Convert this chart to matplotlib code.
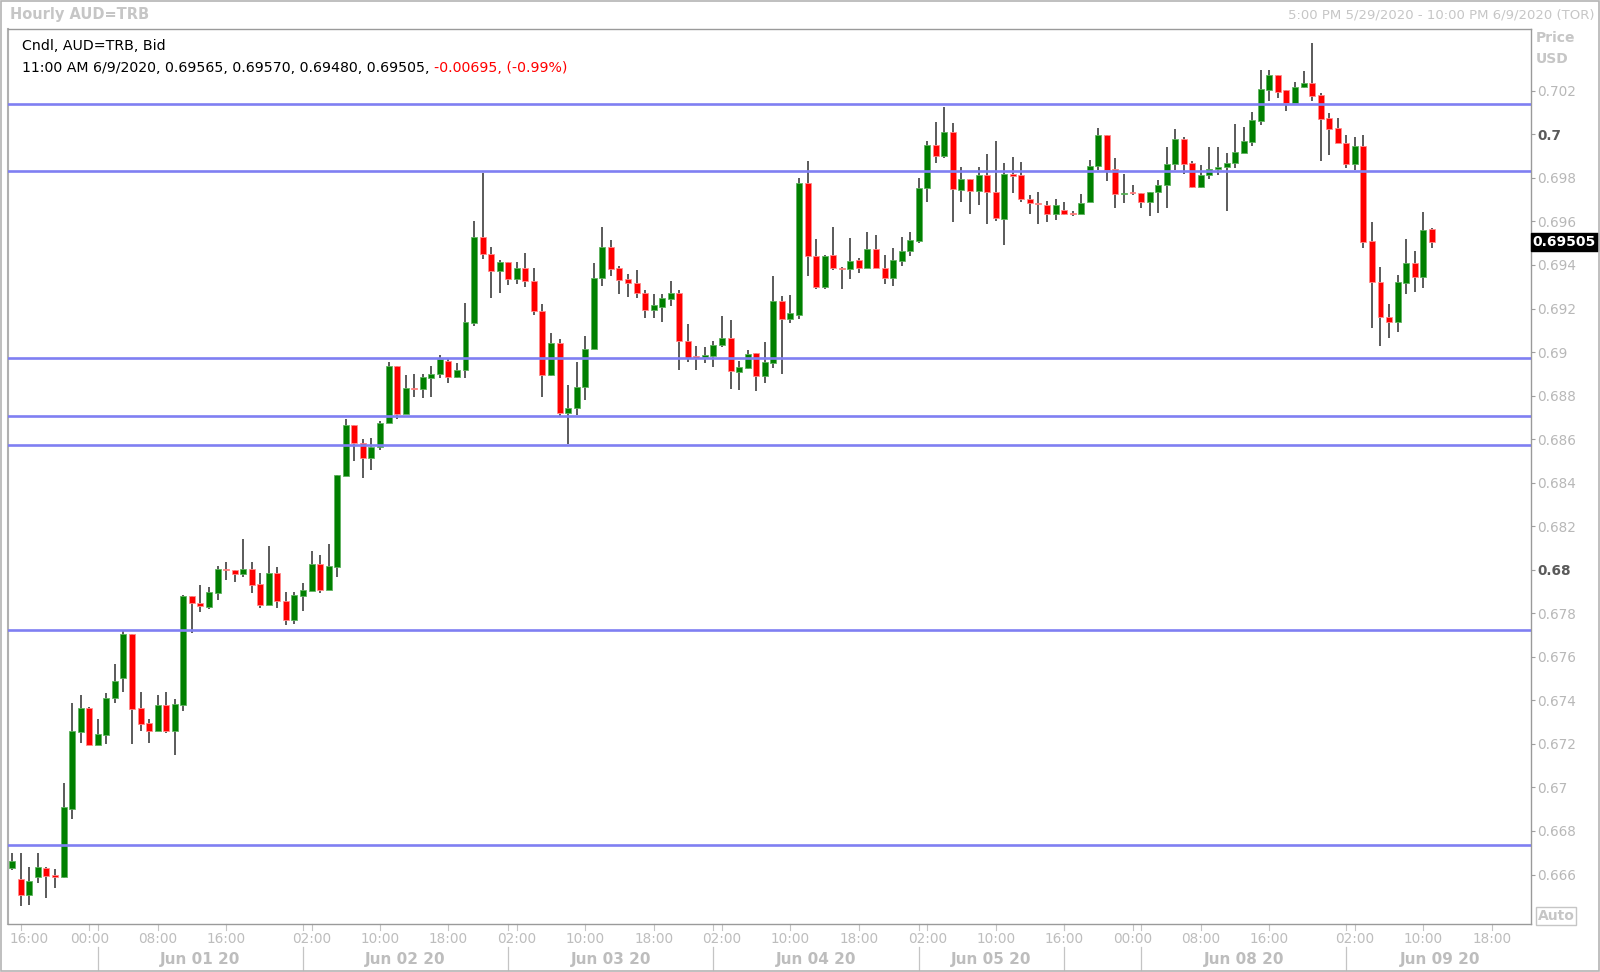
import matplotlib
matplotlib.use("Agg")
import matplotlib.pyplot as plt
import matplotlib.transforms as mtransforms
from matplotlib.patches import Rectangle
import numpy as np

# ---------------- data (hourly AUD=TRB candles) ----------------
opens = [0.66628, 0.66578, 0.66506, 0.66587, 0.66629, 0.66599, 0.66587, 0.66901, 0.67256, 0.67365,
         0.67195, 0.67242, 0.67409, 0.67501, 0.67705, 0.67365, 0.67295, 0.67261, 0.67377, 0.67261,
         0.67379, 0.67879, 0.67849, 0.67831, 0.67895, 0.68002, 0.67999, 0.67980, 0.68002, 0.67933,
         0.67838, 0.67984, 0.67858, 0.67770, 0.67880, 0.67903, 0.68025, 0.67907, 0.68014, 0.68431,
         0.68666, 0.68584, 0.68515, 0.68565, 0.68673, 0.68938, 0.68716, 0.68833, 0.68830, 0.68882,
         0.68898, 0.68961, 0.68887, 0.68918, 0.69135, 0.69527, 0.69449, 0.69370, 0.69412, 0.69334,
         0.69385, 0.69326, 0.69189, 0.68895, 0.69043, 0.68719, 0.68745, 0.68838, 0.69016, 0.69340,
         0.69484, 0.69385, 0.69336, 0.69319, 0.69273, 0.69193, 0.69205, 0.69245, 0.69270, 0.69052,
         0.68982, 0.68976, 0.68983, 0.69031, 0.69066, 0.68908, 0.68925, 0.68994, 0.68892, 0.68948,
         0.69236, 0.69150, 0.69170, 0.69778, 0.69443, 0.69297, 0.69446, 0.69388, 0.69382, 0.69423,
         0.69388, 0.69475, 0.69388, 0.69342, 0.69420, 0.69466, 0.69512, 0.69752, 0.69951, 0.69902,
         0.70012, 0.69744, 0.69793, 0.69741, 0.69815, 0.69737, 0.69613, 0.69816, 0.69813, 0.69702,
         0.69685, 0.69677, 0.69634, 0.69653, 0.69637, 0.69634, 0.69688, 0.69855, 0.69997, 0.69839,
         0.69727, 0.69732, 0.69730, 0.69690, 0.69735, 0.69766, 0.69864, 0.69979, 0.69868, 0.69760,
         0.69812, 0.69839, 0.69849, 0.69867, 0.69916, 0.69966, 0.70063, 0.70204, 0.70273, 0.70202,
         0.70146, 0.70216, 0.70237, 0.70181, 0.70074, 0.70028, 0.69959, 0.69862, 0.69948, 0.69512,
         0.69323, 0.69163, 0.69140, 0.69317, 0.69411, 0.69343, 0.69565]
highs = [0.66697, 0.66697, 0.66633, 0.66697, 0.66633, 0.66627, 0.67019, 0.67386, 0.67425, 0.67371,
         0.67316, 0.67435, 0.67565, 0.67720, 0.67705, 0.67438, 0.67313, 0.67425, 0.67438, 0.67408,
         0.67885, 0.67879, 0.67930, 0.67919, 0.68017, 0.68037, 0.68000, 0.68141, 0.68037, 0.67984,
         0.68111, 0.68014, 0.67896, 0.67900, 0.67938, 0.68086, 0.68068, 0.68117, 0.68435, 0.68692,
         0.68666, 0.68599, 0.68604, 0.68685, 0.68953, 0.68938, 0.68895, 0.68900, 0.68899, 0.68938,
         0.68987, 0.68967, 0.68948, 0.69224, 0.69603, 0.69821, 0.69484, 0.69423, 0.69412, 0.69412,
         0.69453, 0.69388, 0.69221, 0.69086, 0.69060, 0.68850, 0.68956, 0.69074, 0.69411, 0.69573,
         0.69515, 0.69395, 0.69359, 0.69377, 0.69285, 0.69267, 0.69267, 0.69328, 0.69285, 0.69129,
         0.69029, 0.69025, 0.69052, 0.69166, 0.69147, 0.68960, 0.69009, 0.68994, 0.69045, 0.69349,
         0.69259, 0.69260, 0.69798, 0.69879, 0.69519, 0.69447, 0.69573, 0.69390, 0.69522, 0.69431,
         0.69553, 0.69536, 0.69446, 0.69480, 0.69530, 0.69551, 0.69798, 0.69971, 0.70057, 0.70127,
         0.70054, 0.69849, 0.69793, 0.69852, 0.69910, 0.69971, 0.69870, 0.69897, 0.69875, 0.69721,
         0.69734, 0.69695, 0.69702, 0.69690, 0.69649, 0.69724, 0.69882, 0.70031, 0.69997, 0.69890,
         0.69820, 0.69767, 0.69730, 0.69737, 0.69790, 0.69943, 0.70023, 0.69986, 0.69878, 0.69859,
         0.69943, 0.69943, 0.69913, 0.70046, 0.70032, 0.70104, 0.70296, 0.70296, 0.70273, 0.70202,
         0.70242, 0.70291, 0.70418, 0.70191, 0.70097, 0.70074, 0.69997, 0.69986, 0.69997, 0.69599,
         0.69392, 0.69219, 0.69354, 0.69520, 0.69466, 0.69642, 0.69570]
lows = [0.66621, 0.66455, 0.66460, 0.66560, 0.66490, 0.66537, 0.66585, 0.66854, 0.67203, 0.67193,
        0.67193, 0.67198, 0.67386, 0.67440, 0.67200, 0.67260, 0.67203, 0.67261, 0.67249, 0.67151,
        0.67353, 0.67711, 0.67807, 0.67818, 0.67861, 0.67953, 0.67942, 0.67968, 0.67892, 0.67823,
        0.67838, 0.67823, 0.67748, 0.67750, 0.67812, 0.67903, 0.67895, 0.67907, 0.67968, 0.68430,
        0.68501, 0.68423, 0.68458, 0.68550, 0.68673, 0.68691, 0.68716, 0.68795, 0.68790, 0.68795,
        0.68882, 0.68856, 0.68879, 0.68882, 0.69120, 0.69426, 0.69247, 0.69273, 0.69308, 0.69313,
        0.69300, 0.69170, 0.68792, 0.68890, 0.68705, 0.68578, 0.68710, 0.68780, 0.69016, 0.69305,
        0.69349, 0.69267, 0.69254, 0.69250, 0.69158, 0.69158, 0.69140, 0.69212, 0.68918, 0.68953,
        0.68918, 0.68948, 0.68933, 0.69025, 0.68829, 0.68826, 0.68920, 0.68823, 0.68856, 0.68925,
        0.68899, 0.69135, 0.69150, 0.69351, 0.69290, 0.69290, 0.69377, 0.69290, 0.69334, 0.69362,
        0.69388, 0.69388, 0.69311, 0.69305, 0.69395, 0.69443, 0.69499, 0.69688, 0.69867, 0.69890,
        0.69596, 0.69688, 0.69633, 0.69676, 0.69588, 0.69604, 0.69492, 0.69732, 0.69691, 0.69633,
        0.69587, 0.69596, 0.69607, 0.69629, 0.69626, 0.69634, 0.69688, 0.69836, 0.69787, 0.69660,
        0.69683, 0.69721, 0.69663, 0.69625, 0.69640, 0.69663, 0.69836, 0.69818, 0.69752, 0.69752,
        0.69793, 0.69813, 0.69648, 0.69844, 0.69916, 0.69947, 0.70043, 0.70155, 0.70165, 0.70109,
        0.70146, 0.70211, 0.70155, 0.69879, 0.69905, 0.69959, 0.69844, 0.69836, 0.69477, 0.69110,
        0.69027, 0.69063, 0.69094, 0.69267, 0.69277, 0.69295, 0.69480]
closes = [0.66662, 0.66506, 0.66572, 0.66635, 0.66595, 0.66589, 0.66909, 0.67260, 0.67365, 0.67195,
          0.67246, 0.67412, 0.67490, 0.67705, 0.67362, 0.67292, 0.67261, 0.67377, 0.67261, 0.67382,
          0.67879, 0.67849, 0.67835, 0.67896, 0.68002, 0.67999, 0.67980, 0.68002, 0.67930, 0.67838,
          0.67984, 0.67858, 0.67770, 0.67884, 0.67907, 0.68025, 0.67907, 0.68019, 0.68435, 0.68666,
          0.68584, 0.68515, 0.68565, 0.68676, 0.68938, 0.68716, 0.68833, 0.68830, 0.68884, 0.68899,
          0.68967, 0.68887, 0.68918, 0.69140, 0.69527, 0.69449, 0.69370, 0.69412, 0.69334, 0.69385,
          0.69326, 0.69189, 0.68895, 0.69043, 0.68719, 0.68745, 0.68841, 0.69016, 0.69340, 0.69484,
          0.69382, 0.69331, 0.69316, 0.69273, 0.69193, 0.69215, 0.69247, 0.69270, 0.69052, 0.68971,
          0.68971, 0.68985, 0.69032, 0.69066, 0.68913, 0.68930, 0.68991, 0.68892, 0.68953, 0.69236,
          0.69150, 0.69178, 0.69778, 0.69443, 0.69297, 0.69443, 0.69385, 0.69382, 0.69418, 0.69388,
          0.69475, 0.69388, 0.69342, 0.69423, 0.69466, 0.69515, 0.69755, 0.69951, 0.69902, 0.70012,
          0.69747, 0.69793, 0.69741, 0.69815, 0.69737, 0.69614, 0.69816, 0.69810, 0.69702, 0.69683,
          0.69682, 0.69634, 0.69677, 0.69634, 0.69635, 0.69686, 0.69855, 0.69997, 0.69836, 0.69726,
          0.69732, 0.69730, 0.69690, 0.69737, 0.69767, 0.69864, 0.69979, 0.69864, 0.69760, 0.69813,
          0.69839, 0.69852, 0.69870, 0.69917, 0.69969, 0.70066, 0.70207, 0.70273, 0.70196, 0.70146,
          0.70219, 0.70234, 0.70178, 0.70071, 0.70023, 0.69959, 0.69862, 0.69948, 0.69507, 0.69320,
          0.69160, 0.69140, 0.69320, 0.69411, 0.69343, 0.69562, 0.69505]

# horizontal support / resistance levels
level_lines = [0.70139, 0.69830, 0.68972, 0.68705, 0.68573, 0.67725, 0.66737]

# axis labels
hour_labels = ["16:00", "00:00", "08:00", "16:00", "02:00", "10:00", "18:00", "02:00",
               "10:00", "18:00", "02:00", "10:00", "18:00", "02:00", "10:00", "16:00",
               "00:00", "08:00", "16:00", "02:00", "10:00", "18:00"]
hour_ticks = [1, 9, 17, 25, 35, 43, 51, 59, 67, 75, 83, 91, 99, 107, 115, 123,
              131, 139, 147, 157, 165, 173]
day_labels = ["Jun 01 20", "Jun 02 20", "Jun 03 20", "Jun 04 20", "Jun 05 20",
              "Jun 08 20", "Jun 09 20"]
day_centers = [22, 46, 70, 94, 114.5, 144, 167]
day_separators = [10, 34, 58, 82, 106, 123, 132, 156]
y_ticks = np.round(np.arange(0.666, 0.7021, 0.002), 3)

header1 = "Cndl, AUD=TRB, Bid"
header2 = "11:00 AM 6/9/2020, {:.5f}, {:.5f}, {:.5f}, {:.5f}, ".format(
    opens[-1], highs[-1], lows[-1], closes[-1])
header_change = "-0.00695, (-0.99%)"

# ---------------- figure ----------------
W, H = 1600, 972
fig = plt.figure(figsize=(W / 100, H / 100), dpi=100)
fig.patch.set_facecolor("white")
L, R, T, B = 8, 1531, 29, 924
ax = fig.add_axes([L / W, 1 - B / H, (R - L) / W, (B - T) / H])
ax.set_facecolor("white")

x = np.arange(len(opens))
o = np.array(opens)
c = np.array(closes)
hi = np.array(highs)
lo = np.array(lows)
up = c >= o

GREEN = "#008000"
RED = "#ff0000"
ax.vlines(x, lo, hi, color="#2e2e2e", lw=1.1, zorder=2)
bottoms = np.minimum(o, c)
heights = np.maximum(np.abs(c - o), 0.00004)
ax.bar(x, heights, bottom=bottoms, width=0.7,
       color=np.where(up, GREEN, RED),
       edgecolor=np.where(up, "#5fb35f", "#ff8a8a"), linewidth=0.6, zorder=3)

for v in level_lines:
    ax.axhline(v, color="#7f7ff2", lw=1.9, zorder=4)

ax.set_xlim(-0.5, 177.6)
ymin = 0.702 - (B - 90.8) / 21770
ymax = 0.702 + (90.8 - T) / 21770
ax.set_ylim(ymin, ymax)

for s in ax.spines.values():
    s.set_color("#9a9a9a")
    s.set_linewidth(1.0)
ax.spines["left"].set_color("#b0b0b0")
ax.spines["left"].set_linewidth(1.5)

ax.set_xticks([])
ax.yaxis.tick_right()
ax.set_yticks(y_ticks)
labels = []
for v in y_ticks:
    s = ("%.3f" % v).rstrip("0").rstrip(".")
    labels.append(s)
ax.set_yticklabels(labels)
ax.tick_params(axis="y", direction="out", length=3, width=0.8, color="#a0a0a0",
               pad=1.5, labelsize=9.8, labelcolor="#b8b8b8")
for v, tl in zip(y_ticks, ax.get_yticklabels()):
    if int(round(v * 1000)) % 20 == 0:
        tl.set_color("#5a5a5a")
        tl.set_fontweight("bold")

# current price tag
tag_tr = mtransforms.blended_transform_factory(ax.transAxes, ax.transData)
ax.text(1 + 1.5 / (R - L), closes[-1], "%.5f" % closes[-1], transform=tag_tr,
        ha="left", va="center", color="white", fontsize=10, fontweight="bold",
        bbox=dict(boxstyle="square,pad=0.14", fc="black", ec="black"), zorder=10,
        clip_on=False)

# bottom time axis
xt = ax.get_xaxis_transform()
ah = B - T


def yax(py):
    return (B - py) / ah


for i, (lab, p) in enumerate(zip(hour_labels, hour_ticks)):
    ax.plot([p, p], [yax(924), yax(930)], transform=xt, color="#c4c4c4", lw=0.8,
            clip_on=False)
    px = p + 1 if i == 0 else p
    ax.text(px, yax(939), lab, transform=xt, ha="center", va="center",
            fontsize=9.8, color="#bdbdbd", clip_on=False)
for p in day_separators:
    ax.plot([p, p], [yax(924), yax(930)], transform=xt, color="#c4c4c4", lw=0.8,
            clip_on=False)
    ax.plot([p, p], [yax(947), yax(970)], transform=xt, color="#c4c4c4", lw=0.9,
            clip_on=False)
for lab, p in zip(day_labels, day_centers):
    ax.text(p, yax(959), lab, transform=xt, ha="center", va="center",
            fontsize=11, fontweight="bold", color="#bdbdbd", clip_on=False)

# header texts
fig.text(10 / W, 1 - 15 / H, "Hourly AUD=TRB", fontsize=10.5, fontweight="bold",
         color="#c6c6c6", ha="left", va="center")
fig.text(1595 / W, 1 - 15 / H, "5:00 PM 5/29/2020 - 10:00 PM 6/9/2020 (TOR)",
         fontsize=9.5, color="#c6c6c6", ha="right", va="center")
fig.text(22 / W, 1 - 46.5 / H, header1, fontsize=10.2, color="black", ha="left",
         va="center")
t2 = fig.text(22 / W, 1 - 68 / H, header2, fontsize=10.2, color="black", ha="left",
              va="center")
ax.annotate(header_change, xy=(1, 0.5), xycoords=t2, ha="left", va="center",
            fontsize=10.2, color="#ff0000")

fig.text(1536 / W, 1 - 38 / H, "Price", fontsize=10, fontweight="bold",
         color="#c6c6c6", ha="left", va="center")
fig.text(1536 / W, 1 - 59 / H, "USD", fontsize=10, fontweight="bold",
         color="#c6c6c6", ha="left", va="center")
fig.text(1556 / W, 1 - 916 / H, "Auto", fontsize=10, fontweight="bold",
         color="#c6c6c6", ha="center", va="center",
         bbox=dict(boxstyle="square,pad=0.12", fc="white", ec="#c6c6c6", lw=1))

# outer frame
fig.patches.append(Rectangle((1 / W, 1 / H), 1 - 2 / W, 1 - 2 / H,
                             transform=fig.transFigure, fill=False,
                             ec="#b4b4b4", lw=1.2))

fig.savefig("out.png", dpi=100, facecolor="white")
